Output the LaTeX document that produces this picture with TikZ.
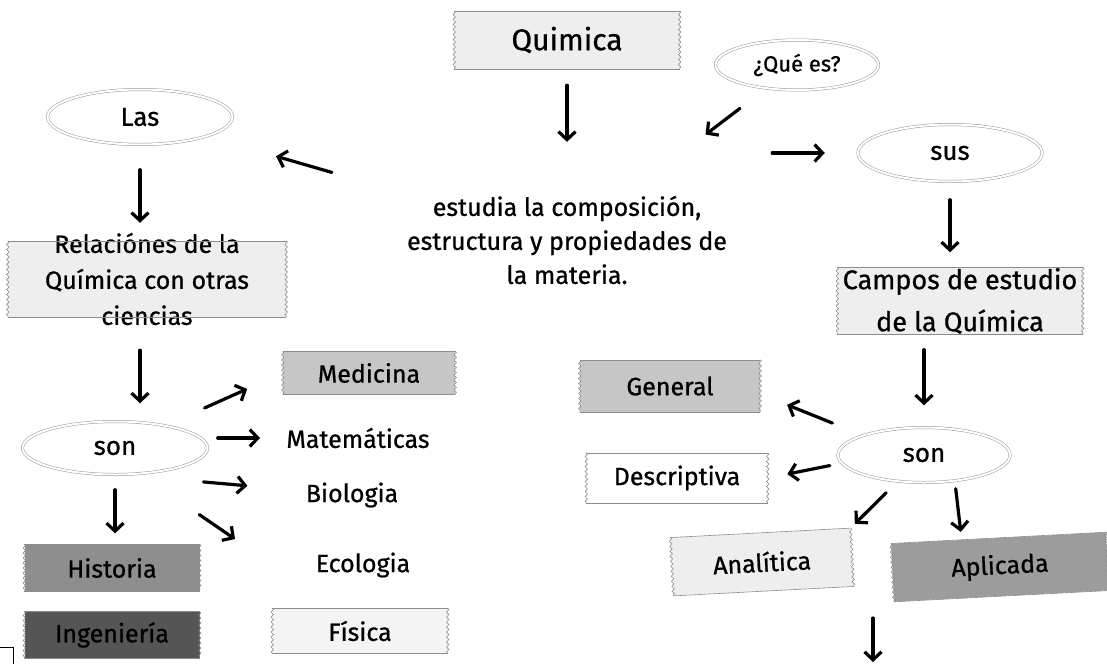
\documentclass[tikz,border=0pt]{standalone}
\usepackage{fontspec}
\setmainfont{Fira Sans}[FakeBold=0.8]
\usepackage{tikz}
\usetikzlibrary{arrows.meta,positioning,shapes.geometric,decorations.pathmorphing}
\definecolor{tapelight}{HTML}{EEEEEE}
\definecolor{tapepale}{HTML}{F4F4F4}
\definecolor{tapemid}{HTML}{C6C6C6}
\definecolor{tapegray}{HTML}{8E8E8E}
\definecolor{tapeapl}{HTML}{9C9C9C}
\definecolor{tapedark}{HTML}{555555}
\tikzset{
  oval/.style={ellipse,draw=black!40,line width=0.5pt,double=white,double distance=2pt,inner sep=0pt,font=\fontsize{26}{30}\selectfont},
  word/.style={inner sep=0pt,font=\fontsize{25}{34}\selectfont},
  tapeline/.style={draw=black!45,fill=none,line width=0.6pt},
  ragged/.style={decorate,decoration={zigzag,amplitude=1.2pt,segment length=5pt}},
  tapebox/.style={fill=#1,inner sep=0pt,font=\fontsize{25}{30}\selectfont,
    append after command={
      (\tikzlastnode.north west) edge[tapeline] (\tikzlastnode.north east)
      (\tikzlastnode.south west) edge[tapeline] (\tikzlastnode.south east)
      (\tikzlastnode.north west) edge[tapeline,ragged] (\tikzlastnode.south west)
      (\tikzlastnode.north east) edge[tapeline,ragged] (\tikzlastnode.south east)}},
  arr/.style={line width=3.2pt,line cap=round,-{Straight Barb[length=8pt,width=17pt]}}
}
\begin{document}
\begin{tikzpicture}[x=1pt,y=-1pt]
  \useasboundingbox (0,0) rectangle (1107,664);
  \node[tapebox=tapelight,minimum width=225pt,minimum height=58pt,font=\fontsize{30}{34}\selectfont] (quim) at (567,40) {Quimica};
  \node[oval,minimum width=163pt,minimum height=50pt,font=\fontsize{22}{26}\selectfont] (que) at (797,65) {¿Qué es?};
  \node[word,minimum width=320pt,minimum height=104pt,align=center] (texto) at (567,240)
    {estudia la composición,\\estructura y propiedades de\\la materia.};
  \node[oval,minimum width=184pt,minimum height=57pt] (sus) at (950,153) {sus};
  \node[oval,minimum width=185pt,minimum height=55pt] (las) at (140,117) {Las};
  \node[tapebox=tapelight,minimum width=278pt,minimum height=76pt,inner ysep=-10pt,align=center,font=\fontsize{25}{36}\selectfont] (rel) at (147,279)
    {Relaciónes de la\\Química con otras\\ciencias};
  \node[tapebox=tapelight,minimum width=245pt,minimum height=67pt,align=center,font=\fontsize{27}{42}\selectfont] (campos) at (960,301)
    {Campos de estudio\\de la Química};

  \node[oval,minimum width=185pt,minimum height=53pt] (sonL) at (115,448) {son};
  \node[tapebox=tapemid,minimum width=172pt,minimum height=43pt] (medicina) at (369,373) {Medicina};
  \node[word] (mate) at (358,438) {Matemáticas};
  \node[word] (bio) at (352,495) {Biologia};
  \node[word] (eco) at (363,565) {Ecologia};
  \node[tapebox=tapepale,minimum width=175pt,minimum height=45pt] (fisica) at (360,631) {Física};
  \node[tapebox=tapegray,minimum width=175pt,minimum height=47pt] (historia) at (112,568) {Historia};
  \node[tapebox=tapedark,minimum width=175pt,minimum height=46pt,below=20pt of historia] (ingen) {Ingeniería};

  \node[oval,minimum width=172pt,minimum height=55pt] (sonR) at (924,455) {son};
  \node[tapebox=tapemid,minimum width=180pt,minimum height=52pt] (general) at (670,386) {General};
  \node[tapebox=white,minimum width=181pt,minimum height=50pt] (descr) at (677,478) {Descriptiva};
  \node[tapebox=tapelight,minimum width=180pt,minimum height=58pt,rotate=3] (analit) at (762,562) {Analítica};
  \node[tapebox=tapeapl,minimum width=215pt,minimum height=58pt,rotate=3] (aplic) at (1000,567) {Aplicada};
  \coordinate (abajo) at (873,618);
  \coordinate (fin) at (873,662);

  \draw[arr,shorten <=16pt,shorten >=46pt] (quim) -- (texto);
  \draw[arr,shorten <=33pt,shorten >=88pt] (que) -- (texto);
  \draw[arr,shorten <=45pt,shorten >=33pt] (texto.north east |- sus) -- (sus);
  \draw[arr,shorten <=18pt,shorten >=15pt] (sus) -- (sus |- campos.north);
  \draw[arr,shorten <=78pt,shorten >=72pt] (texto) -- (las);
  \draw[arr,shorten <=25pt,shorten >=18pt] (las) -- (las |- rel.north);
  \draw[arr,shorten <=33pt,shorten >=18pt] (las |- rel.south) -- (las |- sonL.north);
  \draw[arr,shorten <=15pt,shorten >=11pt] (sonL) -- (sonL |- historia.north);
  \draw[arr,shorten <=43pt,shorten >=39pt] (sonL) -- (medicina.west);
  \draw[arr,shorten <=10pt,shorten >=98pt] (sonL.east |- mate) -- (mate.center);
  \draw[arr,shorten <=23pt,shorten >=105pt] ([yshift=-13pt]sonL.south east) -- (bio.center);
  \draw[arr,shorten <=102pt,shorten >=46pt] ([yshift=-9pt]sonL.center) -- ([xshift=-90pt]eco.center);

  \draw[arr,shorten <=15pt,shorten >=22pt] (sonR |- campos.south) -- (sonR);
  \draw[arr,shorten <=33pt,shorten >=29pt] (sonR.north west) -- ([yshift=-8pt]general.east);
  \draw[arr,shorten <=8pt,shorten >=20pt] ([yshift=-9pt]sonR.west) -- (descr.east);
  \draw[arr,shorten <=16pt,shorten >=6pt] (sonR) -- (analit.north east);
  \draw[arr,shorten <=6pt,shorten >=6pt] ([xshift=31pt]sonR.south) -- ([xshift=-37pt]aplic.north);
  \draw[arr] (abajo) -- (fin);

  \draw[line width=1pt] (0,647) -| (13,664);
\end{tikzpicture}
\end{document}
